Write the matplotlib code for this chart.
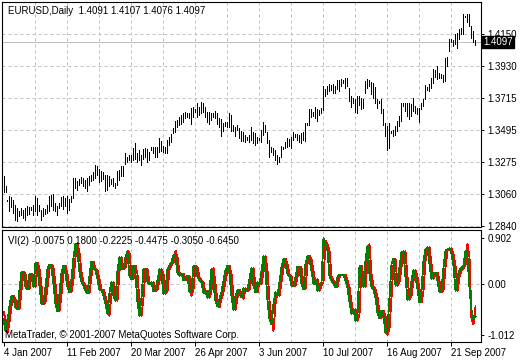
import matplotlib
matplotlib.use('Agg')
import numpy as np
import matplotlib.pyplot as plt
import matplotlib.transforms as mtransforms

plt.rcParams['font.family'] = ['Liberation Sans', 'DejaVu Sans']
plt.rcParams['font.size'] = 7

# EURUSD daily bars, 4 Jan 2007 .. end of Sep 2007
highs = [
    1.3183, 1.3110, 1.3020, 1.3042, 1.3037, 1.3019, 1.2985, 1.2962, 1.2940, 1.2962,
    1.2951, 1.2962, 1.2974, 1.2969, 1.2969, 1.2985, 1.3046, 1.3030, 1.2985, 1.2951,
    1.2962, 1.2955, 1.2985, 1.3042, 1.3053, 1.3060, 1.2996, 1.2978, 1.2996, 1.3037,
    1.3042, 1.3030, 1.3042, 1.3024, 1.3046, 1.3167, 1.3167, 1.3144, 1.3160, 1.3174,
    1.3167, 1.3156, 1.3167, 1.3183, 1.3190, 1.3206, 1.3258, 1.3246, 1.3228, 1.3212,
    1.3206, 1.3190, 1.3190, 1.3178, 1.3160, 1.3167, 1.3133, 1.3212, 1.3224, 1.3246,
    1.3251, 1.3335, 1.3312, 1.3323, 1.3323, 1.3369, 1.3403, 1.3335, 1.3358, 1.3323,
    1.3362, 1.3369, 1.3362, 1.3346, 1.3376, 1.3380, 1.3376, 1.3376, 1.3438, 1.3422,
    1.3385, 1.3376, 1.3426, 1.3445, 1.3468, 1.3506, 1.3559, 1.3564, 1.3582, 1.3598,
    1.3610, 1.3621, 1.3614, 1.3614, 1.3644, 1.3655, 1.3637, 1.3678, 1.3655, 1.3683,
    1.3678, 1.3655, 1.3621, 1.3621, 1.3610, 1.3614, 1.3628, 1.3614, 1.3575, 1.3568,
    1.3541, 1.3552, 1.3552, 1.3610, 1.3598, 1.3529, 1.3518, 1.3529, 1.3506, 1.3490,
    1.3480, 1.3458, 1.3449, 1.3461, 1.3518, 1.3484, 1.3477, 1.3449, 1.3438, 1.3495,
    1.3552, 1.3529, 1.3484, 1.3426, 1.3380, 1.3369, 1.3358, 1.3323, 1.3312, 1.3385,
    1.3376, 1.3415, 1.3438, 1.3431, 1.3449, 1.3484, 1.3468, 1.3468, 1.3461, 1.3477,
    1.3484, 1.3546, 1.3541, 1.3637, 1.3637, 1.3621, 1.3651, 1.3637, 1.3632, 1.3644,
    1.3793, 1.3775, 1.3798, 1.3811, 1.3804, 1.3811, 1.3798, 1.3834, 1.3834, 1.3843,
    1.3839, 1.3850, 1.3850, 1.3782, 1.3729, 1.3713, 1.3706, 1.3729, 1.3724, 1.3710,
    1.3704, 1.3829, 1.3841, 1.3836, 1.3822, 1.3818, 1.3790, 1.3704, 1.3692, 1.3708,
    1.3635, 1.3544, 1.3521, 1.3544, 1.3487, 1.3498, 1.3521, 1.3555, 1.3589, 1.3681,
    1.3681, 1.3676, 1.3681, 1.3681, 1.3669, 1.3715, 1.3658, 1.3647, 1.3647, 1.3681,
    1.3704, 1.3799, 1.3790, 1.3806, 1.3852, 1.3914, 1.3904, 1.3932, 1.3882, 1.3875,
    1.3868, 1.3989, 1.3996, 1.4115, 1.4119, 1.4110, 1.4149, 1.4160, 1.4183, 1.4194,
    1.4286, 1.4274, 1.4286, 1.4286, 1.4206, 1.4172, 1.4107,
]
lows = [
    1.3069, 1.3070, 1.3012, 1.2939, 1.2969, 1.2928, 1.2883, 1.2871, 1.2905, 1.2917,
    1.2894, 1.2883, 1.2917, 1.2924, 1.2951, 1.2917, 1.2939, 1.2917, 1.2939, 1.2883,
    1.2905, 1.2921, 1.2928, 1.2939, 1.2974, 1.2951, 1.2939, 1.2917, 1.2962, 1.2974,
    1.2955, 1.2974, 1.2928, 1.2951, 1.3001, 1.3030, 1.3099, 1.3087, 1.3121, 1.3133,
    1.3110, 1.3099, 1.3076, 1.3121, 1.3144, 1.3156, 1.3167, 1.3190, 1.3137, 1.3144,
    1.3160, 1.3076, 1.3087, 1.3110, 1.3128, 1.3110, 1.3099, 1.3121, 1.3156, 1.3178,
    1.3183, 1.3266, 1.3277, 1.3289, 1.3277, 1.3289, 1.3300, 1.3277, 1.3289, 1.3255,
    1.3294, 1.3312, 1.3277, 1.3289, 1.3358, 1.3335, 1.3312, 1.3312, 1.3346, 1.3353,
    1.3346, 1.3335, 1.3339, 1.3392, 1.3415, 1.3477, 1.3484, 1.3518, 1.3529, 1.3536,
    1.3552, 1.3575, 1.3587, 1.3575, 1.3536, 1.3587, 1.3621, 1.3587, 1.3598, 1.3614,
    1.3621, 1.3587, 1.3552, 1.3536, 1.3564, 1.3587, 1.3575, 1.3536, 1.3518, 1.3454,
    1.3490, 1.3522, 1.3513, 1.3518, 1.3490, 1.3490, 1.3454, 1.3495, 1.3438, 1.3420,
    1.3420, 1.3412, 1.3426, 1.3415, 1.3426, 1.3403, 1.3392, 1.3403, 1.3426, 1.3415,
    1.3461, 1.3484, 1.3403, 1.3312, 1.3346, 1.3323, 1.3289, 1.3261, 1.3277, 1.3312,
    1.3362, 1.3369, 1.3376, 1.3385, 1.3369, 1.3426, 1.3449, 1.3426, 1.3415, 1.3408,
    1.3426, 1.3422, 1.3529, 1.3529, 1.3587, 1.3591, 1.3575, 1.3559, 1.3598, 1.3610,
    1.3632, 1.3729, 1.3742, 1.3758, 1.3770, 1.3747, 1.3747, 1.3775, 1.3758, 1.3793,
    1.3816, 1.3782, 1.3793, 1.3690, 1.3655, 1.3678, 1.3621, 1.3610, 1.3667, 1.3636,
    1.3647, 1.3749, 1.3783, 1.3795, 1.3738, 1.3715, 1.3681, 1.3647, 1.3681, 1.3612,
    1.3532, 1.3452, 1.3361, 1.3373, 1.3475, 1.3452, 1.3464, 1.3487, 1.3521, 1.3555,
    1.3658, 1.3624, 1.3589, 1.3567, 1.3589, 1.3624, 1.3612, 1.3601, 1.3548, 1.3635,
    1.3658, 1.3704, 1.3767, 1.3761, 1.3783, 1.3818, 1.3859, 1.3841, 1.3852, 1.3852,
    1.3822, 1.3829, 1.3932, 1.4035, 1.4092, 1.4069, 1.4080, 1.4057, 1.4115, 1.4149,
    1.4149, 1.4263, 1.4229, 1.4206, 1.4126, 1.4092, 1.4076,
]
last_ohlc = [1.4091, 1.4107, 1.4076, 1.4097]

# VI(2) indicator lines
vi_green = [
    -0.70, -0.93, -0.76, -0.43, -0.24, -0.30, -0.47, -0.50, -0.14, 0.24,
    0.20, -0.07, -0.11, 0.19, 0.16, -0.07, 0.42, 0.29, -0.04, -0.40,
    -0.37, -0.07, 0.29, 0.38, 0.32, -0.01, -0.40, -0.55, -0.20, 0.22,
    0.36, 0.19, -0.07, -0.17, 0.09, 0.52, 0.78, 0.62, 0.22, 0.03,
    -0.04, -0.14, -0.19, 0.16, 0.44, 0.29, 0.26, 0.09, -0.12, -0.12,
    -0.24, -0.40, -0.60, -0.17, 0.03, -0.24, -0.34, 0.26, 0.52, 0.29,
    0.31, 0.52, 0.62, 0.14, 0.09, 0.36, 0.19, -0.37, -0.63, -0.27,
    0.29, 0.29, 0.03, -0.01, 0.03, -0.15, -0.11, 0.06, 0.29, 0.19,
    -0.20, -0.14, 0.29, 0.36, 0.42, 0.57, 0.52, 0.22, 0.16, 0.20,
    0.07, 0.13, 0.16, -0.17, -0.11, 0.36, 0.32, 0.13, 0.06, 0.03,
    -0.19, -0.14, -0.28, -0.14, 0.29, -0.01, -0.34, -0.45, -0.30, -0.17,
    0.06, 0.26, 0.36, 0.19, -0.24, -0.52, -0.27, -0.12, -0.20, -0.27,
    -0.09, -0.14, -0.12, 0.09, 0.31, -0.04, -0.17, 0.03, -0.01, 0.24,
    0.55, 0.26, -0.34, -0.70, -0.80, -0.40, -0.17, -0.24, 0.03, 0.32,
    0.49, 0.39, 0.19, 0.14, -0.04, -0.04, 0.13, 0.34, 0.32, -0.01,
    -0.11, 0.39, 0.55, 0.49, 0.26, -0.01, 0.09, -0.14, -0.04, 0.03,
    0.90, 0.78, 0.65, 0.14, 0.06, 0.01, -0.07, 0.13, 0.18, 0.16,
    0.18, 0.06, -0.07, -0.37, -0.59, -0.50, -0.73, -0.60, 0.36, 0.13,
    -0.07, 0.45, 0.75, 0.19, -0.06, -0.11, -0.27, -0.57, -0.68, -0.53,
    -0.63, -0.97, -0.89, -0.27, 0.39, 0.49, -0.04, 0.03, 0.32, 0.62,
    0.64, 0.13, -0.32, -0.24, 0.06, 0.27, 0.13, -0.11, -0.37, -0.14,
    0.45, 0.68, 0.72, 0.39, 0.09, 0.22, 0.22, 0.06, -0.17, -0.14,
    0.32, 0.65, 0.68, 0.70, 0.59, 0.36, -0.14, 0.13, 0.27, 0.31,
    0.36, 0.65, 0.52, -0.07, -0.53, -0.70, -0.645,
]
vi_red = [
    -0.55, -0.70, -0.97, -0.76, -0.43, -0.24, -0.30, -0.47, -0.50, -0.14,
    0.24, 0.20, -0.07, -0.11, 0.19, 0.16, -0.07, 0.42, 0.29, -0.04,
    -0.40, -0.37, -0.07, 0.29, 0.38, 0.32, -0.01, -0.40, -0.55, -0.20,
    0.22, 0.36, 0.19, -0.07, -0.17, 0.09, 0.52, 0.80, 0.62, 0.22,
    0.03, -0.04, -0.14, -0.19, 0.16, 0.44, 0.29, 0.26, 0.09, -0.12,
    -0.12, -0.24, -0.40, -0.63, -0.17, 0.03, -0.24, -0.34, 0.26, 0.52,
    0.29, 0.31, 0.65, 0.62, 0.14, 0.09, 0.36, 0.19, -0.37, -0.63,
    -0.27, 0.29, 0.29, 0.03, -0.01, 0.03, -0.15, -0.11, 0.06, 0.29,
    0.19, -0.20, -0.14, 0.29, 0.36, 0.42, 0.65, 0.52, 0.22, 0.16,
    0.20, 0.07, 0.13, 0.16, -0.24, -0.11, 0.36, 0.32, 0.13, 0.06,
    0.03, -0.19, -0.14, -0.28, -0.14, 0.32, -0.01, -0.34, -0.47, -0.30,
    -0.17, 0.06, 0.26, 0.36, 0.19, -0.24, -0.52, -0.27, -0.12, -0.20,
    -0.30, -0.09, -0.14, -0.12, 0.09, 0.31, -0.04, -0.17, 0.03, -0.01,
    0.24, 0.55, 0.26, -0.34, -0.70, -0.93, -0.40, -0.17, -0.24, 0.03,
    0.32, 0.49, 0.39, 0.19, 0.14, -0.04, -0.04, 0.13, 0.34, 0.32,
    -0.01, -0.11, 0.39, 0.55, 0.49, 0.26, -0.01, 0.09, -0.14, -0.04,
    0.03, 0.85, 0.78, 0.65, 0.14, 0.06, 0.01, -0.07, 0.13, 0.18,
    0.16, 0.18, 0.06, -0.07, -0.37, -0.59, -0.50, -0.73, -0.60, 0.36,
    0.13, -0.07, 0.45, 0.78, 0.19, -0.06, -0.11, -0.27, -0.57, -0.68,
    -0.53, -0.63, -1.01, -0.89, -0.27, 0.39, 0.49, -0.04, 0.03, 0.32,
    0.62, 0.64, 0.13, -0.32, -0.24, 0.06, 0.27, 0.13, -0.11, -0.37,
    -0.14, 0.45, 0.68, 0.72, 0.39, 0.09, 0.22, 0.22, 0.06, -0.17,
    -0.14, 0.32, 0.65, 0.68, 0.70, 0.59, 0.36, -0.14, 0.13, 0.27,
    0.31, 0.36, 0.78, 0.52, -0.70, -0.80, -0.4475,
]
vi_values = [-0.0075, 0.1800, -0.2225, -0.4475, -0.3050, -0.6450]

price_ticks = [1.4150, 1.3930, 1.3715, 1.3495, 1.3275, 1.3060, 1.2840]
vi_ticks = [0.902, 0.0, -1.012]
vi_tick_labels = ['0.902', '0.00', '-1.012']
date_pos = [0, 32, 64, 96, 128, 160, 192, 224]
date_labels = ['4 Jan 2007', '11 Feb 2007', '20 Mar 2007', '26 Apr 2007',
               '3 Jun 2007', '10 Jul 2007', '16 Aug 2007', '21 Sep 2007']

W, H = 520, 360
GRID = '#c0c0c0'
DASH = (0, (3, 3))
LW = 0.62  # ~1 device pixel


def px_box(l, t, r, b):
    return [l / W, 1 - b / H, (r - l) / W, (b - t) / H]


fig = plt.figure(figsize=(W / 100, H / 100), dpi=100)
fig.patch.set_facecolor('white')
ax1 = fig.add_axes(px_box(2, 2, 481, 227))
ax2 = fig.add_axes(px_box(2, 230, 481, 342))

x = np.arange(len(highs))

# vertical grid every 16 bars
for ax in (ax1, ax2):
    for g in range(16, 239, 16):
        ax.axvline(g, color=GRID, lw=0.72, ls=DASH, zorder=0)
    ax.set_xlim(-0.75, 238.75)
    for s in ax.spines.values():
        s.set_linewidth(0.8)
        s.set_color('black')

# main price panel
for v in price_ticks:
    ax1.axhline(v, color=GRID, lw=0.72, ls=DASH, zorder=0)
ax1.axhline(last_ohlc[3], color=GRID, lw=0.72, zorder=1)
ax1.vlines(x, lows, highs, color='black', lw=LW, antialiased=False, zorder=2)
ax1.set_ylim(1.28332, 1.43683)
ax1.set_xticks([])
ax1.yaxis.tick_right()
ax1.set_yticks(price_ticks)
ax1.set_yticklabels(['%.4f' % v for v in price_ticks])
ax1.tick_params(axis='y', direction='out', length=2.5, width=0.7, pad=2, labelsize=7)

trans = mtransforms.blended_transform_factory(ax1.transAxes, ax1.transData)
ax1.text(1.004, last_ohlc[3], '%.4f' % last_ohlc[3], transform=trans,
         ha='left', va='center', color='white', fontsize=7, zorder=10,
         bbox=dict(boxstyle='square,pad=0.12', fc='black', ec='black'))

fig.text(8 / W, 1 - 11 / H,
         'EURUSD,Daily  ' + ' '.join('%.4f' % v for v in last_ohlc),
         ha='left', va='center', fontsize=7)

# indicator panel
ax2.axhline(0, color=GRID, lw=0.72, ls=DASH, zorder=0)
ax2.plot(x, vi_red, color='#ff0000', lw=LW, antialiased=False, zorder=2)
ax2.plot(x, vi_green, color='#008000', lw=LW, antialiased=False, zorder=3)
ax2.set_ylim(-1.150, 1.060)
ax2.yaxis.tick_right()
ax2.set_yticks(vi_ticks)
ax2.set_yticklabels(vi_tick_labels)
ax2.tick_params(axis='y', direction='out', length=2.5, width=0.7, pad=2, labelsize=7)
ax2.set_xticks(date_pos)
ax2.set_xticklabels(date_labels)
for lbl in ax2.get_xticklabels():
    lbl.set_ha('left')
ax2.tick_params(axis='x', direction='out', length=3, width=0.7, pad=1.5, labelsize=7)

fig.text(8 / W, 1 - 241 / H,
         'VI(2) ' + ' '.join('%.4f' % v for v in vi_values),
         ha='left', va='center', fontsize=7, zorder=10)
fig.text(5 / W, 1 - 335 / H,
         'MetaTrader, \u00a9 2001-2007 MetaQuotes Software Corp.',
         ha='left', va='center', fontsize=7, zorder=10)

fig.savefig('out.png', dpi=100)
